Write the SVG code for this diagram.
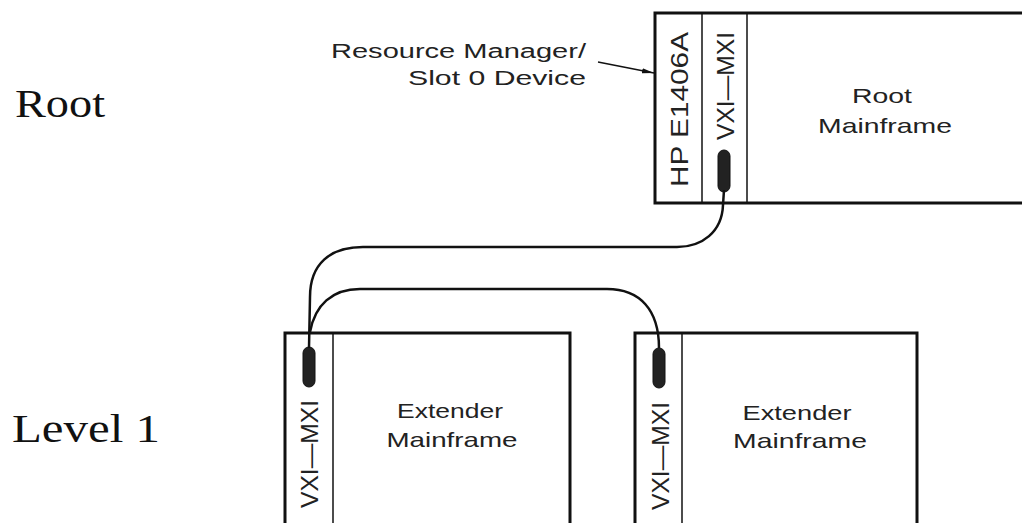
<svg xmlns="http://www.w3.org/2000/svg" width="1022" height="523" viewBox="0 0 1022 523">
<defs>
<style>
.frame{fill:none;stroke:#111;stroke-width:3}
.div{fill:none;stroke:#111;stroke-width:1.5}
.cable{fill:none;stroke:#111;stroke-width:2.5}
.plug{fill:#222;stroke:#111;stroke-width:1}
.lbl{font-family:"Liberation Sans","DejaVu Sans",sans-serif;fill:#222}
.lvl{font-family:"Liberation Serif","DejaVu Serif",serif;fill:#111;font-size:39px}
</style>
<marker id="arr" viewBox="0 0 12 6" refX="12" refY="3" markerWidth="12" markerHeight="6" markerUnits="userSpaceOnUse" orient="auto">
<path d="M0,0.5 L12,3 L0,5.5 Z" fill="#111"/>
</marker>
</defs>
<rect width="1022" height="523" fill="#fff"/>

<g id="levels">
<text class="lvl" x="15" y="117" textLength="90" lengthAdjust="spacingAndGlyphs">Root</text>
<text class="lvl" x="12" y="442" textLength="148" lengthAdjust="spacingAndGlyphs">Level  1</text>
</g>

<g id="callout">
<text class="lbl" font-size="20" text-anchor="end" x="586" y="58" textLength="255" lengthAdjust="spacingAndGlyphs">Resource  Manager/</text>
<text class="lbl" font-size="20" text-anchor="end" x="586" y="85" textLength="178" lengthAdjust="spacingAndGlyphs">Slot  0  Device</text>
</g>

<g id="root-mainframe">
<rect class="frame" x="655" y="13" width="380" height="190"/>
<line class="div" x1="702" y1="13" x2="702" y2="203"/>
<line class="div" x1="747" y1="13" x2="747" y2="203"/>
<text class="lbl" font-size="24" text-anchor="middle" transform="translate(687.5,109.5) rotate(-90)" textLength="155" lengthAdjust="spacingAndGlyphs">HP  E1406A</text>
<text class="lbl" font-size="24" text-anchor="middle" transform="translate(733.5,86) rotate(-90)" textLength="108" lengthAdjust="spacingAndGlyphs">VXI—MXI</text>
<rect class="plug" x="718" y="150" width="12" height="42" rx="6"/>
<text class="lbl" font-size="21" text-anchor="middle" x="882" y="103" textLength="60" lengthAdjust="spacingAndGlyphs">Root</text>
<text class="lbl" font-size="21" text-anchor="middle" x="885" y="133" textLength="134" lengthAdjust="spacingAndGlyphs">Mainframe</text>
</g>

<g id="extender-1">
<rect class="frame" x="285" y="333" width="285" height="200"/>
<line class="div" x1="333" y1="333" x2="333" y2="523"/>
<text class="lbl" font-size="24" text-anchor="middle" transform="translate(317.5,454) rotate(-90)" textLength="108" lengthAdjust="spacingAndGlyphs">VXI—MXI</text>
<rect class="plug" x="303" y="347" width="12" height="40" rx="6"/>
<text class="lbl" font-size="21" text-anchor="middle" x="450" y="418" textLength="106" lengthAdjust="spacingAndGlyphs">Extender</text>
<text class="lbl" font-size="21" text-anchor="middle" x="452" y="447" textLength="131" lengthAdjust="spacingAndGlyphs">Mainframe</text>
</g>

<g id="extender-2">
<rect class="frame" x="635" y="333" width="282" height="200"/>
<line class="div" x1="682" y1="333" x2="682" y2="523"/>
<text class="lbl" font-size="24" text-anchor="middle" transform="translate(668.5,456) rotate(-90)" textLength="108" lengthAdjust="spacingAndGlyphs">VXI—MXI</text>
<rect class="plug" x="653" y="348" width="12" height="40" rx="6"/>
<text class="lbl" font-size="21" text-anchor="middle" x="797" y="420" textLength="109" lengthAdjust="spacingAndGlyphs">Extender</text>
<text class="lbl" font-size="21" text-anchor="middle" x="800" y="448" textLength="134" lengthAdjust="spacingAndGlyphs">Mainframe</text>
</g>

<g id="connectors">
<line x1="598" y1="62" x2="654" y2="73" stroke="#111" stroke-width="1.5" marker-end="url(#arr)"/>
<path class="cable" d="M724,190 L723,205 C722,232 702,247 677,247 L363,247 C330,247 310,264 310,297 L309,348"/>
<path class="cable" d="M310,332 C315,305 332,289 360,289 L607,289 C640,289 659,310 659,348"/>
</g>
</svg>
